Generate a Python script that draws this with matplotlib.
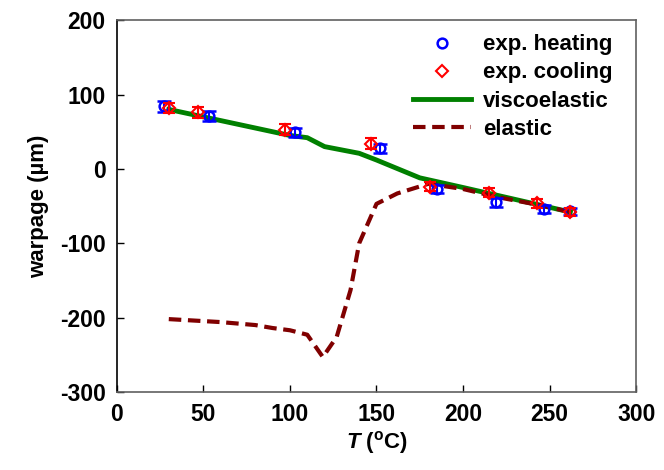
import numpy as np
import matplotlib.pyplot as plt

plt.rcParams['font.family'] = ['Liberation Sans', 'DejaVu Sans']
plt.rcParams['font.weight'] = 'bold'
plt.rcParams['axes.unicode_minus'] = False
plt.rcParams['mathtext.fontset'] = 'custom'
plt.rcParams['mathtext.it'] = 'Liberation Sans:italic:bold'
plt.rcParams['mathtext.rm'] = 'Liberation Sans:bold'

# measured warpage, heating run
T_heat = [27, 53, 103, 152, 185, 219, 247, 262]
w_heat = [84, 71, 49, 28, -27, -45, -54, -57]
err_heat = [8, 7, 6, 6, 5, 6, 5, 5]

# measured warpage, cooling run
T_cool = [30, 47, 97, 147, 181, 215, 243, 262]
w_cool = [82, 76, 53, 34, -24, -32, -46, -58]
err_cool = [7, 7, 7, 7, 6, 6, 6, 5]

# simulations
T_visco = [30, 50, 100, 110, 120, 140, 150, 175, 200, 262]
w_visco = [80, 70, 45, 42, 30, 21, 12, -12, -25, -58]

T_elast = [30, 60, 80, 90, 100, 110, 119, 127, 135, 140, 150, 162, 180, 200, 220, 245, 262]
w_elast = [-202, -206, -210, -214, -217, -223, -253, -226, -163, -100, -47, -33, -20, -27, -38, -49, -58]

fig = plt.figure(figsize=(6.64, 4.70), dpi=100)
ax = fig.add_axes([0.176, 0.166, 0.782, 0.791])

ax.plot(T_visco, w_visco, color='#008000', lw=3.5, label='viscoelastic', zorder=3)
ax.plot(T_elast, w_elast, color='#800000', lw=3, ls=(0, (3, 1.6)), label='elastic', zorder=3)

ax.errorbar(T_heat, w_heat, yerr=err_heat, fmt='o', mfc='none', mec='blue', ecolor='blue',
            ms=7, mew=1.8, capsize=5, elinewidth=1.5, capthick=1.5, label='exp. heating', zorder=4)
ax.errorbar(T_cool, w_cool, yerr=err_cool, fmt='D', mfc='none', mec='red', ecolor='red',
            ms=6, mew=1.5, capsize=4, elinewidth=1.5, capthick=1.5, label='exp. cooling', zorder=5)

ax.set_xlim(0, 300)
ax.set_ylim(-300, 200)
ax.set_xticks(np.arange(0, 301, 50))
ax.set_yticks(np.arange(-300, 201, 100))
ax.tick_params(direction='in', length=5, width=1, labelsize=16.5, pad=8)
for lab in ax.get_xticklabels() + ax.get_yticklabels():
    lab.set_fontweight('bold')
for sp in ax.spines.values():
    sp.set_color('#606060')
    sp.set_linewidth(1.2)
ax.spines['left'].set_color('black')

ax.set_xlabel(r'$T$ ($^{\rm o}$C)', fontsize=16, fontweight='bold', labelpad=2)
ax.set_ylabel('warpage (µm)', fontsize=16, fontweight='bold', labelpad=8)

h, l = ax.get_legend_handles_labels()
order = [2, 3, 0, 1]
handles = [h[i] for i in order]
handles[0] = plt.Line2D([], [], ls='none', marker='o', mfc='none', mec='blue', ms=7, mew=1.8)
handles[1] = plt.Line2D([], [], ls='none', marker='D', mfc='none', mec='red', ms=6, mew=1.5)
ax.legend(handles, [l[i] for i in order], loc='upper right', bbox_to_anchor=(0.972, 0.986),
          frameon=False, prop={'weight': 'bold', 'size': 16}, handlelength=2.6,
          labelspacing=0.32, borderaxespad=0.0, handletextpad=0.55)

fig.savefig('out.png', dpi=100)
